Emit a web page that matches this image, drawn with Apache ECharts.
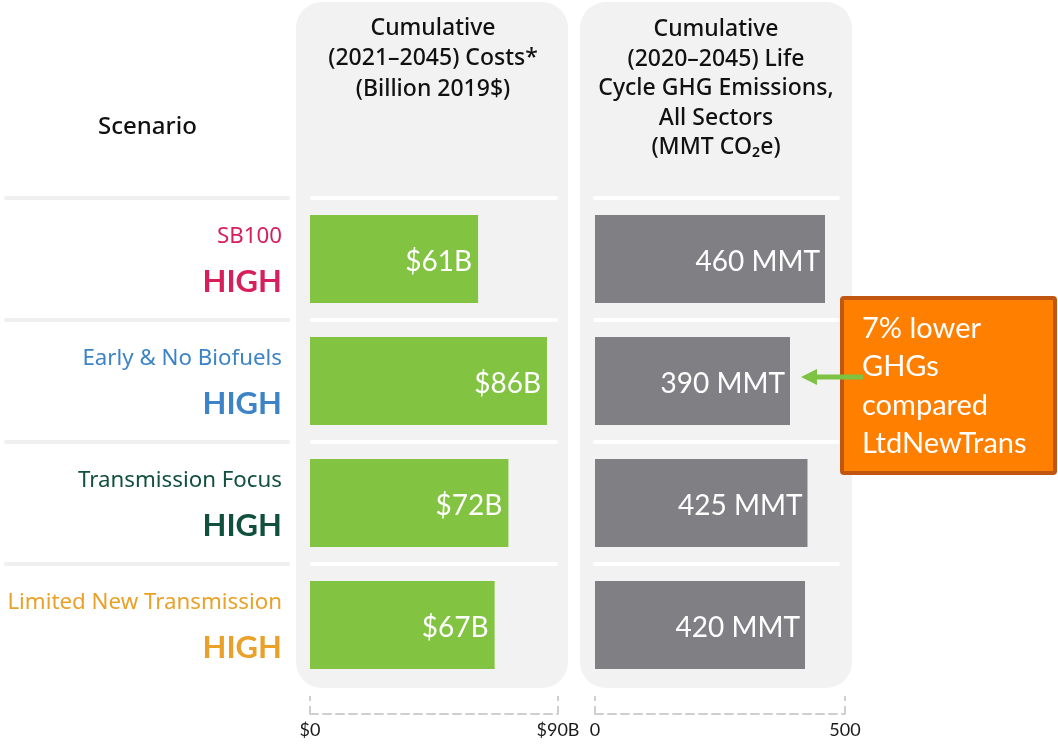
<!DOCTYPE html>
<html>
<head>
<meta charset="utf-8">
<script src="https://cdn.jsdelivr.net/npm/echarts@6/dist/echarts.min.js"></script>
<style>
  html, body { margin: 0; padding: 0; background: #fff; }
  #chart { width: 1058px; height: 744px; }
</style>
</head>
<body>
<div id="chart"></div>
<script>
// data
const scenarios = ['SB100', 'Early & No Biofuels', 'Transmission Focus', 'Limited New Transmission']
const levels = ['HIGH', 'HIGH', 'HIGH', 'HIGH']
const costs = [61, 86, 72, 67]
const emissions = [460, 390, 425, 420]
const costTicks = ['$0', '$90B']
const emissionTicks = ['0', '500']

const scenarioColors = ['#d71f5b', '#3d84c6', '#11503e', '#e9a12a']
const font = 'Lato, "Noto Sans", sans-serif'
const wideFont = '"Noto Sans", sans-serif'

const chart = echarts.init(document.getElementById('chart'))

const rich = {}
scenarioColors.forEach((c, i) => {
  rich['n' + i] = { color: c, fontSize: 22.3, fontFamily: wideFont, align: 'right', lineHeight: 45 }
  rich['h' + i] = { color: c, fontSize: 31, fontWeight: 'bold', fontFamily: font, align: 'right', lineHeight: 45 }
})

const gridTop = 198
const gridHeight = 488
const band = gridHeight / scenarios.length

const bracket = { color: '#cfcfcf', type: [8, 5], width: 2 }

function xAxisFor(idx, max, ticks) {
  return {
    gridIndex: idx,
    type: 'value',
    min: 0,
    max: max,
    interval: max,
    offset: 28,
    axisLine: { show: true, lineStyle: bracket },
    axisTick: { show: true, inside: true, length: 18, lineStyle: bracket },
    axisLabel: {
      margin: 7,
      fontSize: 18,
      color: '#1a1a1a',
      fontFamily: font,
      formatter: (v) => (v === 0 ? ticks[0] : ticks[1]),
    },
    splitLine: { show: false },
  }
}

// separators between the scenario rows
const seps = []
for (let i = 0; i < scenarios.length; i++) {
  const y = gridTop + i * band - 2
  seps.push({ type: 'rect', z: -1, shape: { x: 4, y: y, width: 286, height: 4, r: 2 }, style: { fill: '#efefef' } })
  seps.push({ type: 'rect', z: -1, shape: { x: 310, y: y, width: 248, height: 4, r: 2 }, style: { fill: '#ffffff' } })
  seps.push({ type: 'rect', z: -1, shape: { x: 593, y: y, width: 247, height: 4, r: 2 }, style: { fill: '#ffffff' } })
}

chart.setOption({
  animation: false,
  grid: [
    { left: 310, width: 248, top: gridTop, height: gridHeight },
    { left: 595, width: 250, top: gridTop, height: gridHeight },
  ],
  xAxis: [xAxisFor(0, 90, costTicks), xAxisFor(1, 500, emissionTicks)],
  yAxis: [
    {
      gridIndex: 0,
      type: 'category',
      inverse: true,
      data: scenarios,
      axisLine: { show: false },
      axisTick: { show: false },
      splitLine: { show: false },
      axisLabel: {
        margin: 28,
        rich: rich,
        formatter: (v, i) => '{n' + i + '|' + v + '}\n{h' + i + '|' + levels[i] + '}',
      },
    },
    {
      gridIndex: 1,
      type: 'category',
      inverse: true,
      data: scenarios,
      axisLine: { show: false },
      axisTick: { show: false },
      axisLabel: { show: false },
      splitLine: { show: false },
    },
  ],
  series: [
    {
      type: 'bar',
      xAxisIndex: 0,
      yAxisIndex: 0,
      data: costs,
      barWidth: 88,
      itemStyle: { color: '#82c341' },
      label: {
        show: true,
        position: 'insideRight',
        distance: 6,
        offset: [0, 3],
        color: '#fff',
        fontSize: 28,
        fontFamily: font,
        formatter: (p) => '$' + p.value + 'B',
      },
    },
    {
      type: 'bar',
      xAxisIndex: 1,
      yAxisIndex: 1,
      data: emissions,
      barWidth: 88,
      itemStyle: { color: '#808084' },
      label: {
        show: true,
        position: 'insideRight',
        distance: 5,
        offset: [0, 3],
        color: '#fff',
        fontSize: 28,
        fontFamily: font,
        formatter: (p) => p.value + ' MMT',
      },
    },
  ],
  graphic: [
    { type: 'rect', z: -2, shape: { x: 296, y: 2, width: 272, height: 686, r: 26 }, style: { fill: '#f2f2f2' } },
    { type: 'rect', z: -2, shape: { x: 580, y: 2, width: 272, height: 686, r: 26 }, style: { fill: '#f2f2f2' } },
    ...seps,
    {
      type: 'text', z: 5, x: 433, y: 13,
      style: {
        text: 'Cumulative\n(2021–2045) Costs*\n(Billion 2019$)',
        fill: '#111', font: '500 23px ' + wideFont, textAlign: 'center', lineHeight: 30.5,
      },
    },
    {
      type: 'text', z: 5, x: 716, y: 15,
      style: {
        text: 'Cumulative\n(2020–2045) Life\nCycle GHG Emissions,\nAll Sectors\n(MMT CO₂e)',
        fill: '#111', font: '500 23px ' + wideFont, textAlign: 'center', lineHeight: 29.5,
      },
    },
    {
      type: 'text', z: 5, x: 98, y: 115,
      style: { text: 'Scenario', fill: '#111', font: '500 24px ' + wideFont },
    },
    // callout
    {
      type: 'rect', z: 20, shape: { x: 842, y: 298, width: 213, height: 175, r: 2 },
      style: { fill: '#ff7f00', stroke: '#c0560f', lineWidth: 4 },
    },
    {
      type: 'text', z: 21, x: 862, y: 309,
      style: {
        text: '7% lower\nGHGs\ncompared\nLtdNewTrans',
        fill: '#fff', font: '29px ' + font, lineHeight: 38.5,
      },
    },
    {
      type: 'line', z: 22, shape: { x1: 863, y1: 377, x2: 814, y2: 377 },
      style: { stroke: '#7dc242', lineWidth: 5 },
    },
    {
      type: 'polygon', z: 22, shape: { points: [[801, 377], [817, 369], [817, 385]] },
      style: { fill: '#7dc242' },
    },
  ],
})
</script>
</body>
</html>
